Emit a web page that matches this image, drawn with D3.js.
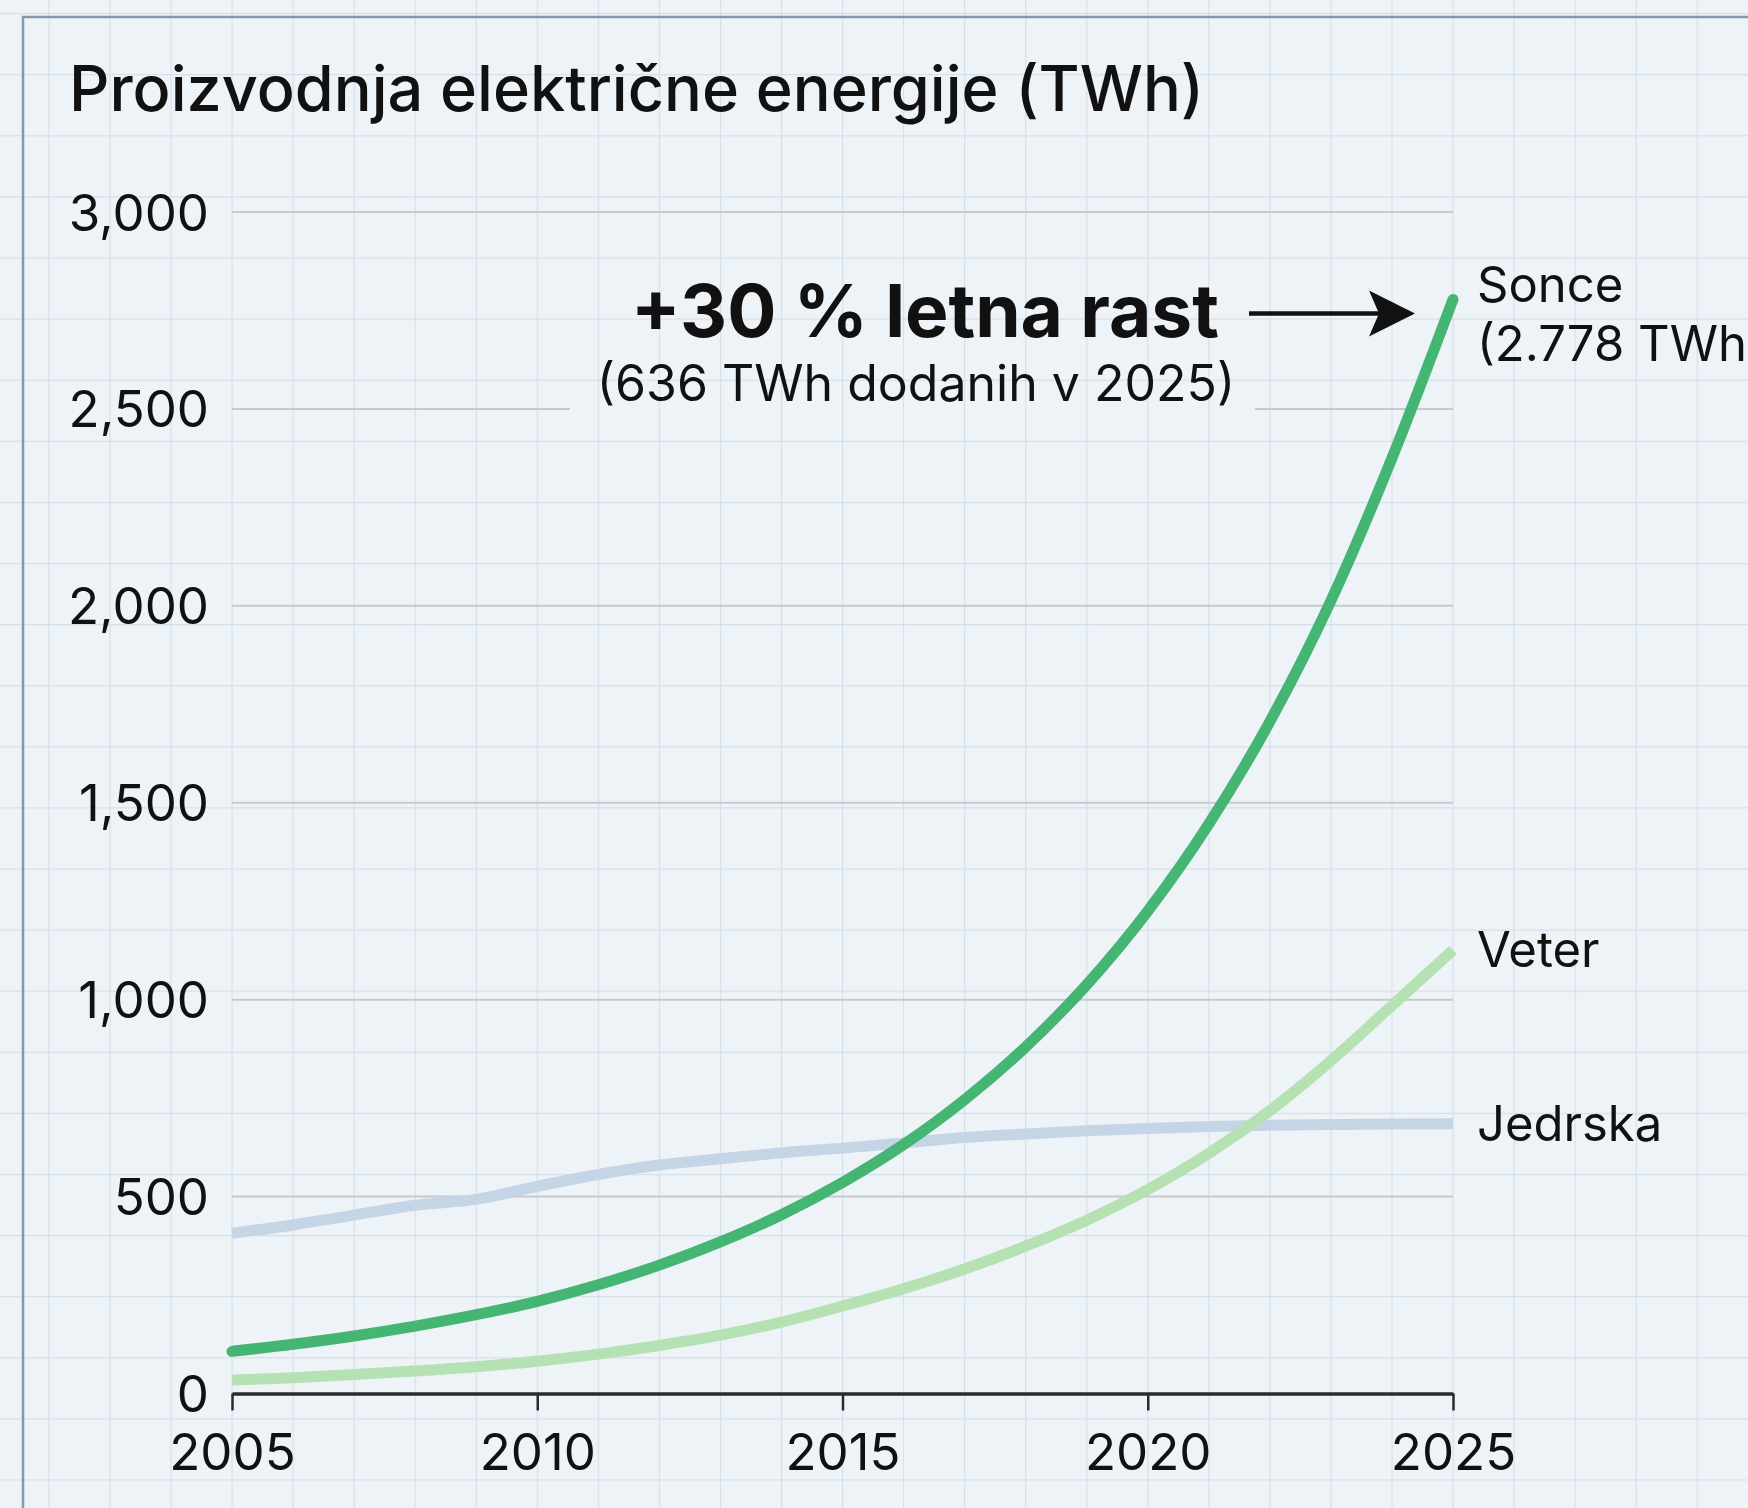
<!DOCTYPE html>
<html>
<head>
<meta charset="utf-8">
<script src="https://cdn.jsdelivr.net/npm/d3@7"></script>
<style>
  html, body { margin: 0; padding: 0; background: #eef3f8; }
  svg { display: block; }
  text { font-family: Inter, "Noto Sans", sans-serif; fill: #111; }
</style>
</head>
<body>
<svg id="chart" width="1748" height="1508"></svg>
<script>
// ---- data ----
const years = [2005, 2006, 2007, 2008, 2009, 2010, 2011, 2012, 2013, 2014, 2015,
               2016, 2017, 2018, 2019, 2020, 2021, 2022, 2023, 2024, 2025];
const sonce = [107, 125, 146, 171, 200, 234, 276, 326, 385, 454, 536,
               632, 746, 880, 1038, 1225, 1446, 1706, 2013, 2375, 2778];
const veter = [34, 40, 48, 57, 68, 82, 100, 122, 148, 181, 222,
               266, 316, 374, 440, 518, 610, 718, 845, 985, 1126];
const jedrska = [407, 428, 453, 478, 493, 526, 556, 580, 596, 611, 623,
                 636, 650, 659, 667, 673, 678, 681, 683, 684, 685];
const seriesLabels = [["Jedrska"], ["Veter"], ["Sonce", "(2.778 TWh)"]];
const seriesColors = ["#c4d5e6", "#b6e1b3", "#45b574"];
const yTicks = [0, 500, 1000, 1500, 2000, 2500, 3000];
const xTicks = [2005, 2010, 2015, 2020, 2025];
const title = "Proizvodnja električne energije (TWh)";
const annoMain = "+30 % letna rast";
const annoSub = "(636 TWh dodanih v 2025)";

// ---- layout ----
const W = 1748, H = 1508;
const svg = d3.select("#chart");
const bg = "#eef3f8";

const x = d3.scaleLinear().domain([2005, 2025]).range([232, 1453]);
const y = d3.scaleLinear().domain([0, 3000]).range([1393.5, 212]);

const defs = svg.append("defs");
const gridStepX = (x(2025) - x(2005)) / 20;
const pat = defs.append("pattern")
  .attr("id", "paper").attr("patternUnits", "userSpaceOnUse")
  .attr("x", x(2005) - 0.5).attr("y", 13)
  .attr("width", gridStepX).attr("height", 61.1);
pat.append("rect").attr("width", gridStepX).attr("height", 61.1).attr("fill", bg);
pat.append("path").attr("d", `M0.5,0 V61.1 M0,0.5 H${gridStepX}`)
  .attr("stroke", "#d5dfe9").attr("stroke-width", 1.3).attr("fill", "none");

svg.append("rect").attr("width", W).attr("height", H).attr("fill", "url(#paper)");

// frame
svg.append("path").attr("d", `M23,${H} V17 H${W}`)
  .attr("fill", "none").attr("stroke", "#8499ad").attr("stroke-width", 2.5);

// title
svg.append("text").attr("x", 69).attr("y", 111)
  .attr("font-size", 63).attr("font-weight", 500).text(title);

// horizontal gridlines
svg.append("g").selectAll("line").data(yTicks.filter(d => d > 0)).join("line")
  .attr("x1", x(2005)).attr("x2", x(2025))
  .attr("y1", d => y(d)).attr("y2", d => y(d))
  .attr("stroke", "#c6c9cd").attr("stroke-width", 2);

// y tick labels
svg.append("g").selectAll("text").data(yTicks).join("text")
  .attr("x", 209).attr("y", d => y(d)).attr("text-anchor", "end")
  .attr("dominant-baseline", "central").attr("font-size", 51)
  .text(d => d3.format(",")(d));

// x axis
const xAxis = d3.axisBottom(x).tickValues(xTicks).tickFormat(d3.format("d"))
  .tickSize(17).tickSizeOuter(0).tickPadding(23);
const gx = svg.append("g").attr("transform", `translate(0,${y(0)})`).call(xAxis);
gx.select(".domain").attr("stroke", "#2b2b2b").attr("stroke-width", 3.5);
gx.selectAll(".tick line").attr("stroke", "#2b2b2b").attr("stroke-width", 2.5);
gx.selectAll(".tick text").attr("font-size", 51).attr("fill", "#111")
  .attr("font-family", "Inter, 'Noto Sans', sans-serif");

// lines
const allSeries = [jedrska, veter, sonce];
const line = d3.line().x((d, i) => x(years[i])).y(d => y(d)).curve(d3.curveMonotoneX);
svg.append("g").selectAll("path").data(allSeries).join("path")
  .attr("d", d => line(d)).attr("fill", "none")
  .attr("stroke", (d, i) => seriesColors[i])
  .attr("stroke-width", 11)
  .attr("stroke-linecap", (d, i) => i === 2 ? "round" : "butt");

// end labels
allSeries.forEach((s, i) => {
  const last = s[s.length - 1];
  const t = svg.append("text").attr("x", x(2025) + 24).attr("y", y(last))
    .attr("font-size", 49);
  seriesLabels[i].forEach((lab, j) => {
    t.append("tspan").attr("x", x(2025) + 24)
      .attr("dy", j === 0 ? (i === 2 ? "0.05em" : "0.35em") : "1.2em").text(lab);
  });
});

// annotation
const annoY = y(2742);
svg.append("rect").attr("x", 570).attr("y", 372)
  .attr("width", 685).attr("height", 60).attr("fill", "url(#paper)");
svg.append("text").attr("x", 1219).attr("y", 337).attr("text-anchor", "end")
  .attr("font-size", 73).attr("font-weight", 700).text(annoMain);
svg.append("text").attr("x", 916).attr("y", 401).attr("text-anchor", "middle")
  .attr("font-size", 50).text(annoSub);

const tipX = x(2025) - 38;
svg.append("line").attr("x1", 1249).attr("x2", tipX - 30)
  .attr("y1", annoY).attr("y2", annoY)
  .attr("stroke", "#111").attr("stroke-width", 4.5);
svg.append("path")
  .attr("d", `M${tipX},${annoY} L${tipX - 46},${annoY - 23} L${tipX - 36},${annoY} L${tipX - 46},${annoY + 23} Z`)
  .attr("fill", "#111");
</script>
</body>
</html>
